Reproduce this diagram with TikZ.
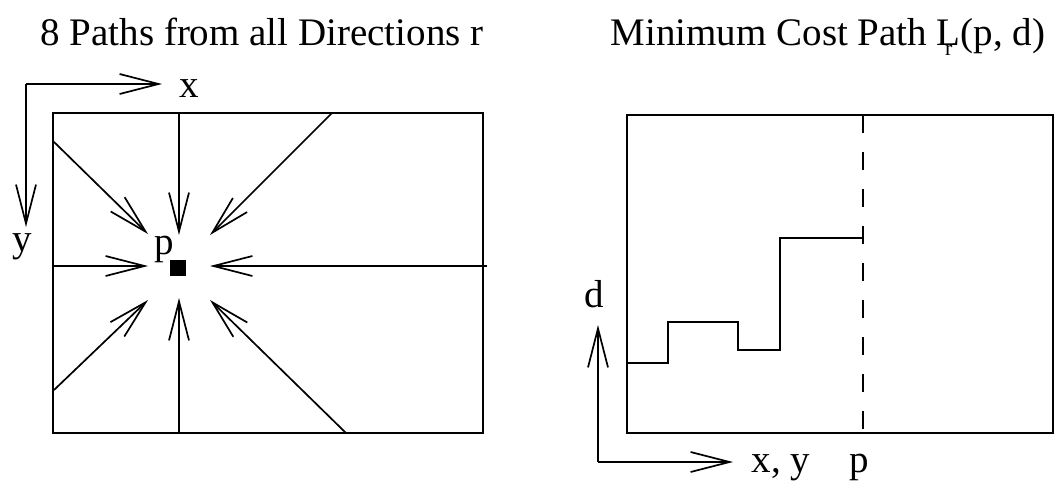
\documentclass[tikz,border=0pt]{standalone}
\usepackage{fontspec}
\setmainfont{Liberation Serif}
\usetikzlibrary{arrows.meta}
\begin{document}
\begin{tikzpicture}[x=1pt,y=-1pt,
  line width=1.7pt,
  lbl/.style={inner sep=0pt,anchor=base,font=\fontsize{39}{41}\selectfont},
  arr/.style={-{Straight Barb[length=39pt,width=20pt,line width=1.7pt]}},
  box/.style={draw,line width=1.9pt}]
\useasboundingbox (0,0) rectangle (1057,485);
% titles
\node[lbl] (t1) at (262,45) {8 Paths from all Directions r};
\node[lbl] (t2) at (828,45) {Minimum Cost Path L\makebox[0pt][l]{\hspace{-0.40em}\raisebox{-0.28em}{\fontsize{22}{22}\selectfont r}}(p, d)};
% left panel
\coordinate (LTL) at (53,113);
\coordinate (LBR) at (483,433);
\draw[box] (LTL) rectangle (LBR);
\coordinate (ax0) at (26,84);
\coordinate (axX) at (162,84);
\coordinate (axY) at (26,227);
\draw[arr] (ax0) -- (axX);
\draw[arr] (ax0) -- (axY);
\node[lbl] (xl) at (189,97) {x};
\node[lbl] (yl) at (22,251) {y};
\node[lbl] (pl) at (164,254) {p};
\node[fill=black,minimum size=16pt,inner sep=0pt] (P) at (178,268) {};
% sources
\coordinate (sT) at (179,113);
\coordinate (sB) at (179,433);
\coordinate (sL) at (53,266);
\coordinate (sR) at (487,266);
\coordinate (sTL) at (53,141);
\coordinate (sTR) at (332,113);
\coordinate (sBL) at (54,390);
\coordinate (sBR) at (346,433);
% tips
\coordinate (eT) at (179,235);
\coordinate (eB) at (179,298);
\coordinate (eL) at (148,266);
\coordinate (eR) at (210,266);
\coordinate (eTL) at (148,234);
\coordinate (eTR) at (210,235);
\coordinate (eBL) at (148,300);
\coordinate (eBR) at (210,300);
\draw[arr] (sT) -- (eT);
\draw[arr] (sB) -- (eB);
\draw[arr] (sL) -- (eL);
\draw[arr] (sR) -- (eR);
\draw[arr] (sTL) -- (eTL);
\draw[arr] (sTR) -- (eTR);
\draw[arr] (sBL) -- (eBL);
\draw[arr] (sBR) -- (eBR);
% right panel
\coordinate (RTL) at (627,115);
\coordinate (RBR) at (1053,433);
\draw[box] (RTL) rectangle (RBR);
\coordinate (dT) at (863,115);
\coordinate (dB) at (863,433);
\draw[dash pattern=on 18pt off 19pt] (dT) -- (dB);
\coordinate (s0) at (627,363);
\coordinate (s1) at (863,238);
\draw (s0) -- (668,363) -- (668,322) -- (738,322) -- (738,350) -- (780,350) -- (780,238) -- (s1);
\coordinate (bx0) at (598,462);
\coordinate (bxX) at (733,462);
\coordinate (bxY) at (598,325);
\draw[arr] (bx0) -- (bxX);
\draw[arr] (bx0) -- (bxY);
\node[lbl] (dl) at (594,307) {d};
\node[lbl] (xyl) at (781,472) {x, y};
\node[lbl] (pl2) at (859,472) {p};
\end{tikzpicture}
\end{document}
